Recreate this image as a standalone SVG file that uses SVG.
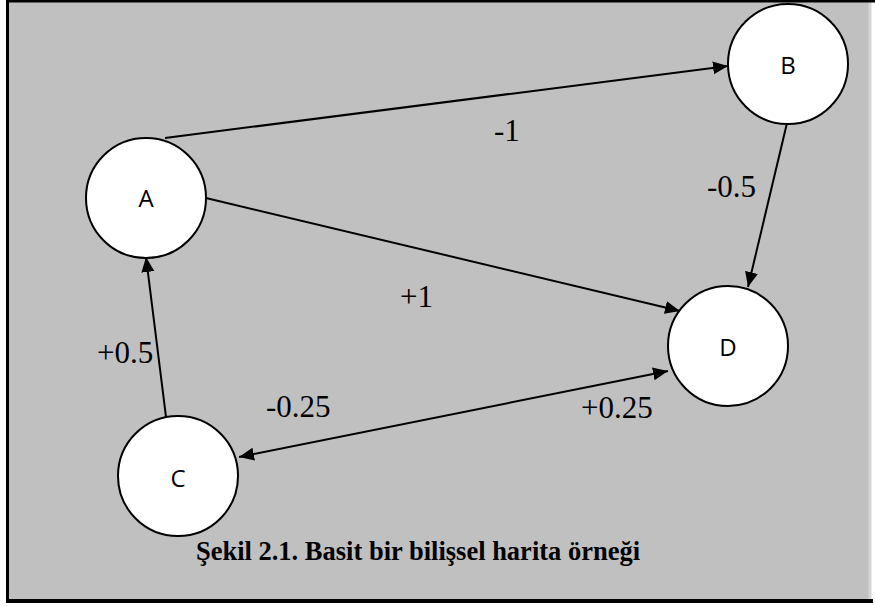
<svg xmlns="http://www.w3.org/2000/svg" width="875" height="606" viewBox="0 0 875 606">
<style>
.node circle{fill:#fff;stroke:#000;stroke-width:2}
.node text{font-family:"Open Sans","DejaVu Sans",sans-serif;font-size:24px;text-anchor:middle;fill:#000}
.edges line{stroke:#000;stroke-width:2;fill:none}
.lbl{font-family:"Liberation Serif","Times New Roman",serif;font-size:31px;fill:#000}
.cap{font-family:"Liberation Serif","Times New Roman",serif;font-size:26.5px;font-weight:bold;text-anchor:middle;fill:#000}
</style>
<defs>
<marker id="ah" markerUnits="userSpaceOnUse" markerWidth="16" markerHeight="14" refX="15" refY="6.5" orient="auto-start-reverse">
<path d="M0,0 L15,6.5 L0,13 z" fill="#000"/>
</marker>
</defs>
<rect x="0" y="0" width="875" height="606" fill="#fff"/>
<rect x="8" y="1" width="862" height="600" fill="#c0c0c0"/>
<line x1="870" y1="2" x2="870" y2="600" stroke="#d6d6d6" stroke-width="3"/>
<line x1="6" y1="1" x2="875" y2="1" stroke="#000" stroke-width="3"/>
<line x1="7.5" y1="0" x2="7.5" y2="603" stroke="#000" stroke-width="3"/>
<line x1="6" y1="601" x2="873" y2="601" stroke="#000" stroke-width="4"/>
<g class="edges">
<line x1="165" y1="138" x2="728" y2="66" marker-end="url(#ah)"/>
<line x1="206" y1="198" x2="680" y2="311" marker-end="url(#ah)"/>
<line x1="787" y1="123" x2="748" y2="287" marker-end="url(#ah)"/>
<line x1="166" y1="417" x2="146" y2="257" marker-end="url(#ah)"/>
<line x1="239" y1="457" x2="668" y2="371" marker-start="url(#ah)" marker-end="url(#ah)"/>
</g>
<g id="node-A" class="node"><circle cx="146" cy="198" r="60"/><text x="146" y="207">A</text></g>
<g id="node-B" class="node"><circle cx="788" cy="64" r="60"/><text x="788" y="74">B</text></g>
<g id="node-D" class="node"><circle cx="728" cy="346" r="60"/><text x="728" y="356">D</text></g>
<g id="node-C" class="node"><circle cx="178" cy="476" r="60"/><text x="178" y="487">C</text></g>
<g id="labels">
<text class="lbl" x="494" y="141">-1</text>
<text class="lbl" x="707" y="197">-0.5</text>
<text class="lbl" x="400" y="307">+1</text>
<text class="lbl" x="97" y="363">+0.5</text>
<text class="lbl" x="266" y="417">-0.25</text>
<text class="lbl" x="581" y="418">+0.25</text>
<text class="cap" x="418" y="560">Şekil 2.1. Basit bir bilişsel harita örneği</text>
</g>
</svg>
